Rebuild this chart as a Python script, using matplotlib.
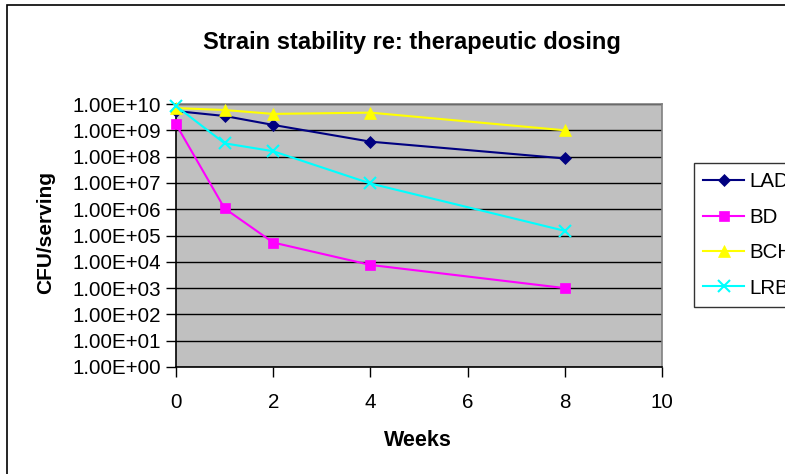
import matplotlib
matplotlib.use("Agg")
import matplotlib.pyplot as plt
from matplotlib.patches import Rectangle
from matplotlib.ticker import FixedLocator, FixedFormatter

plt.rcParams['font.family'] = ['Liberation Sans', 'DejaVu Sans']

# data
weeks = [0, 1, 2, 4, 8]
lad = [5.4e9, 3.5e9, 1.6e9, 3.7e8, 8.5e7]
bd = [1.7e9, 1.07e6, 5.4e4, 7.6e3, 1.0e3]
bch = [7.0e9, 5.9e9, 4.2e9, 4.7e9, 1.0e9]
lrb = [8.4e9, 3.2e8, 1.6e8, 9.5e6, 1.5e5]

series = ["LAD", "BD", "BCH", "LRB"]
colors = ["#000080", "#FF00FF", "#FFFF00", "#00FFFF"]
markers = ["D", "s", "^", "x"]
msizes = [6, 6.5, 8, 8]

y_exp = list(range(0, 11))
y_labels = ["1.00E+%02d" % e for e in y_exp]
x_ticks = [0, 2, 4, 6, 8, 10]

W, H = 785, 474
fig = plt.figure(figsize=(W / 100, H / 100), dpi=100)
fig.patch.set_facecolor("white")

# outer chart border (clipped on right/bottom like the reference)
fig.patches.append(Rectangle((7 / W, -0.1), 1.2, 1 - 5 / H + 0.1,
                             transform=fig.transFigure, fill=False,
                             edgecolor="black", linewidth=1.2))

left, right, top, bottom = 176, 662, 104, 367
ax = fig.add_axes([left / W, 1 - bottom / H, (right - left) / W, (bottom - top) / H])
ax.set_facecolor("#C0C0C0")

for name, vals, c, m, ms in zip(series, [lad, bd, bch, lrb], colors, markers, msizes):
    ax.plot(weeks, vals, color=c, marker=m, markersize=ms, linewidth=1.5,
            markeredgewidth=1.5 if m == "x" else 0.5, markeredgecolor=c,
            label=name, clip_on=False, zorder=3)

ax.set_yscale("log")
ax.set_ylim(1, 1e10)
ax.set_xlim(0, 10)
ax.yaxis.set_major_locator(FixedLocator([10.0 ** e for e in y_exp]))
ax.yaxis.set_major_formatter(FixedFormatter(y_labels))
ax.yaxis.set_minor_locator(FixedLocator([]))
ax.set_xticks(x_ticks)
ax.grid(axis="y", color="black", linewidth=1.0)
ax.set_axisbelow(True)

ax.tick_params(axis="both", direction="out", length=7, width=1, labelsize=14.8, colors="black")
ax.tick_params(axis="x", pad=12)
ax.tick_params(axis="y", pad=4)

for s in ["top", "right"]:
    ax.spines[s].set_color("#808080")
    ax.spines[s].set_linewidth(1.2)
for s in ["left", "bottom"]:
    ax.spines[s].set_color("black")
    ax.spines[s].set_linewidth(1.2)

fig.text(412 / W, 1 - 42 / H, "Strain stability re: therapeutic dosing",
         ha="center", va="center", fontsize=17, fontweight="bold")
fig.text(418 / W, 1 - 441 / H, "Weeks", ha="center", va="center",
         fontsize=15.5, fontweight="bold")
fig.text(46 / W, 1 - 232 / H, "CFU/serving", ha="center", va="center",
         rotation=90, fontsize=15, fontweight="bold")

leg = fig.legend(loc="upper left", bbox_to_anchor=(694 / W, 1 - 163 / H),
                 fontsize=14.8, frameon=True, fancybox=False,
                 borderpad=0.45, labelspacing=0.8, handlelength=2.0,
                 handletextpad=0.25, borderaxespad=0)
leg.get_frame().set_edgecolor("black")
leg.get_frame().set_linewidth(1.0)

fig.savefig("out.png", dpi=100)
